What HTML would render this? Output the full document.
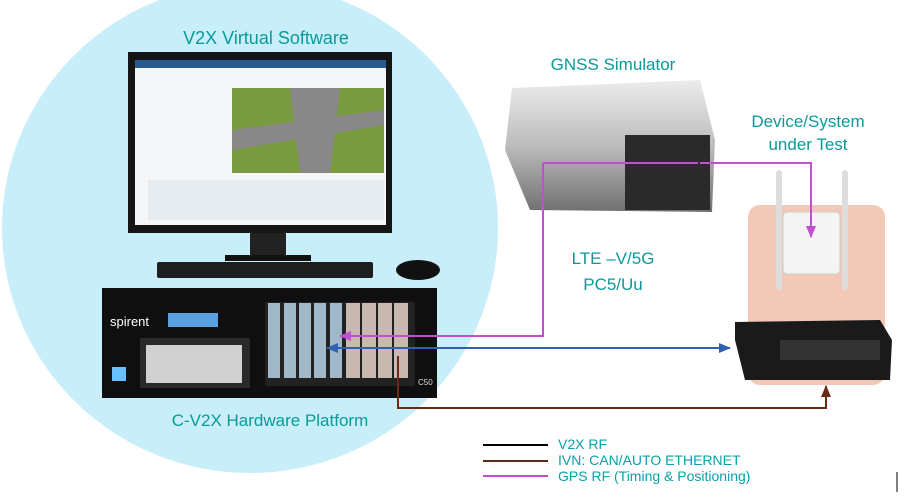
<!DOCTYPE html>
<html><head><style>body{margin:0;background:#fff}svg{display:block}text{font-family:"Liberation Sans",sans-serif}</style></head><body>
<svg width="911" height="504" viewBox="0 0 911 504">
<defs>
<linearGradient id="g" x1="0" y1="0" x2="0" y2="1"><stop offset="0" stop-color="#ececec"/><stop offset="0.5" stop-color="#bcbcbc"/><stop offset="1" stop-color="#707070"/></linearGradient>
<marker id="ap" markerUnits="userSpaceOnUse" markerWidth="12" markerHeight="10" refX="11" refY="5" orient="auto"><path d="M0,0 L12,5 L0,10z" fill="#c050d0"/></marker>
<marker id="ab" markerUnits="userSpaceOnUse" markerWidth="12" markerHeight="10" refX="11" refY="5" orient="auto"><path d="M0,0 L12,5 L0,10z" fill="#3060b0"/></marker>
<marker id="ar" markerUnits="userSpaceOnUse" markerWidth="12" markerHeight="10" refX="11" refY="5" orient="auto"><path d="M0,0 L12,5 L0,10z" fill="#6a2a18"/></marker>
</defs>
<ellipse cx="250" cy="228" rx="248" ry="245" fill="#c8eefa"/>
<text x="266" y="44" font-size="18" fill="#0a9a9a" text-anchor="middle">V2X Virtual Software</text>
<rect x="128" y="52" width="264" height="181" fill="#151515"/>
<rect x="135" y="60" width="251" height="165" fill="#f4f6f8"/>
<rect x="135" y="60" width="251" height="8" fill="#2a5c90"/>
<rect x="232" y="88" width="152" height="85" fill="#7a9a40"/>
<path d="M232 130 L384 110 L384 125 L232 150z M290 88 L340 88 L330 173 L300 173z" fill="#888"/>
<rect x="148" y="180" width="236" height="40" fill="#e6ebf0"/>
<rect x="250" y="233" width="36" height="25" fill="#222"/>
<rect x="225" y="255" width="86" height="6" fill="#111"/>
<rect x="157" y="262" width="216" height="16" rx="2" fill="#1e1e1e"/>
<ellipse cx="418" cy="270" rx="22" ry="10" fill="#111"/>
<path d="M102 288 L437 288 L437 398 L102 398z" fill="#0f0f0f"/>
<text x="110" y="326" font-size="13" fill="#fff">spirent</text>
<rect x="168" y="313" width="50" height="14" fill="#5aa0e0"/>
<rect x="140" y="338" width="110" height="50" fill="#2a2a2a"/>
<rect x="146" y="345" width="96" height="38" fill="#d0d0d0"/>
<rect x="112" y="367" width="14" height="14" fill="#6ac0ff"/>
<rect x="265" y="302" width="150" height="84" fill="#222"/>
<g fill="#a0b8c8"><rect x="268" y="303" width="12" height="75"/><rect x="284" y="303" width="12" height="75"/><rect x="299" y="303" width="12" height="75"/><rect x="314" y="303" width="12" height="75"/><rect x="330" y="303" width="12" height="75"/></g>
<g fill="#c8b8b0"><rect x="346" y="303" width="14" height="75"/><rect x="362" y="303" width="14" height="75"/><rect x="378" y="303" width="14" height="75"/><rect x="394" y="303" width="14" height="75"/></g>
<text x="418" y="385" font-size="8" fill="#ddd">C50</text>
<text x="270" y="426" font-size="17" fill="#0a9a9a" text-anchor="middle">C-V2X Hardware Platform</text>
<text x="613" y="70" font-size="17" fill="#0a9a9a" text-anchor="middle">GNSS Simulator</text>
<path d="M512 88 L700 80 L715 140 L712 212 L530 210 L505 150z" fill="url(#g)"/>
<rect x="625" y="135" width="85" height="75" fill="#2a2a2a"/>
<text x="808" y="127" font-size="17" fill="#0a9a9a" text-anchor="middle">Device/System</text>
<text x="808" y="150" font-size="17" fill="#0a9a9a" text-anchor="middle">under Test</text>
<text x="613" y="264" font-size="17" fill="#0a9a9a" text-anchor="middle">LTE –V/5G</text>
<text x="613" y="290" font-size="17" fill="#0a9a9a" text-anchor="middle">PC5/Uu</text>
<rect x="748" y="205" width="137" height="180" rx="12" fill="#f2c8b6"/>
<rect x="776" y="170" width="6" height="120" rx="3" fill="#ddd"/>
<rect x="842" y="170" width="6" height="120" rx="3" fill="#ddd"/>
<rect x="783" y="212" width="57" height="62" rx="4" fill="#f4f4f4" stroke="#ccc"/>
<path d="M735 322 L880 320 L892 340 L890 380 L745 380 L735 340z" fill="#1a1a1a"/>
<rect x="780" y="340" width="100" height="20" fill="#333"/>
<path d="M543 163 L698 163" stroke="#c050d0" stroke-width="2" fill="none"/>
<path d="M700 163 L811 163 L811 237" stroke="#c050d0" stroke-width="2" fill="none" marker-end="url(#ap)"/>
<path d="M543 163 L543 336 L340 336" stroke="#c050d0" stroke-width="2" fill="none" marker-end="url(#ap)"/>
<path d="M330 348 L730 348" stroke="#3060b0" stroke-width="2" fill="none" marker-end="url(#ab)"/>
<path d="M340 348 L327 348" stroke="#3060b0" stroke-width="2" fill="none" marker-end="url(#ab)"/>
<path d="M398 356 L398 408 L826 408 L826 386" stroke="#6a2a18" stroke-width="2" fill="none" marker-end="url(#ar)"/>
<line x1="483" y1="445" x2="548" y2="445" stroke="#000" stroke-width="2"/>
<line x1="483" y1="461" x2="548" y2="461" stroke="#5a2a1a" stroke-width="2"/>
<line x1="483" y1="476" x2="548" y2="476" stroke="#c050d0" stroke-width="2"/>
<text x="558" y="449" font-size="14" fill="#0aa0a8">V2X  RF</text>
<text x="558" y="465" font-size="14" fill="#0aa0a8">IVN:  CAN/AUTO  ETHERNET</text>
<text x="558" y="481" font-size="14" fill="#0aa0a8">GPS RF (Timing &amp; Positioning)</text>
<line x1="897" y1="472" x2="897" y2="492" stroke="#000" stroke-width="1"/>
</svg>
</body></html>
